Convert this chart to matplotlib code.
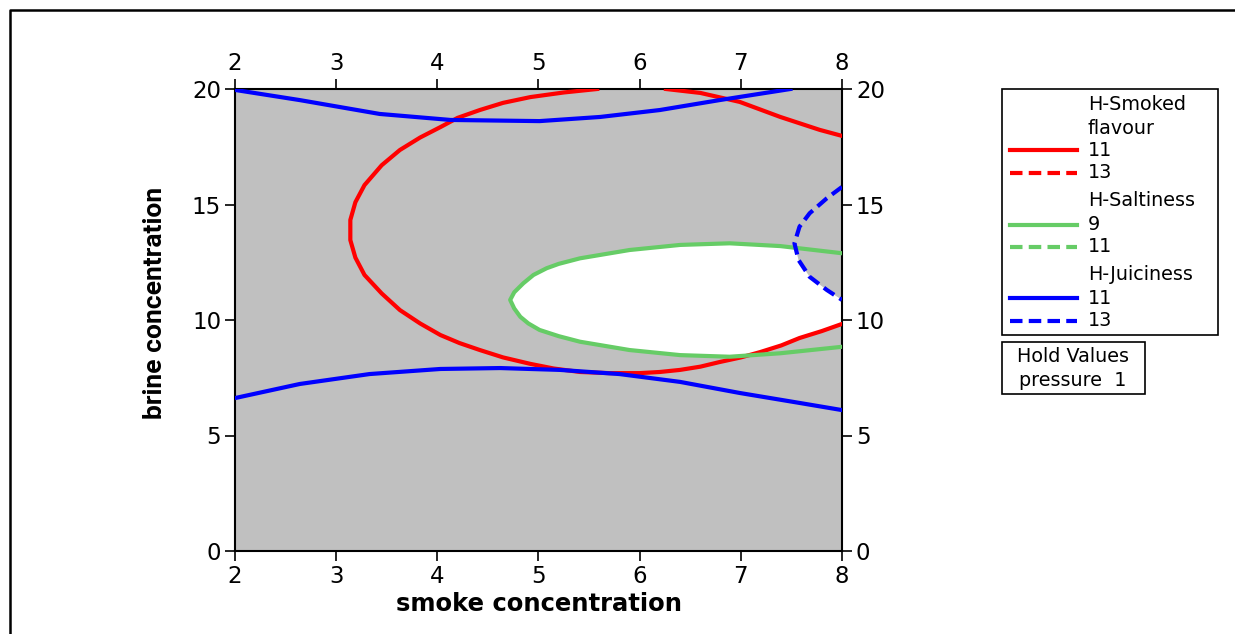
import matplotlib.pyplot as plt
from matplotlib.patches import Rectangle, Polygon

# contour lines
red_left_x = [5.58, 5.25, 4.92, 4.65, 4.42, 4.2, 4.03, 3.83, 3.63, 3.45, 3.28, 3.19, 3.14, 3.14, 3.19, 3.28, 3.45, 3.63, 3.83,
              4.03, 4.22, 4.42, 4.65, 4.92, 5.15, 5.41, 5.7, 6.0, 6.2, 6.4, 6.6, 6.79, 7.0, 7.19, 7.4, 7.58, 7.8, 8.0]
red_left_y = [20.0, 19.85, 19.65, 19.4, 19.09, 18.75, 18.35, 17.9, 17.36, 16.7, 15.84, 15.1, 14.33, 13.46, 12.7, 11.95, 11.15, 10.43, 9.85,
              9.35, 9.0, 8.7, 8.38, 8.1, 7.9, 7.75, 7.7, 7.7, 7.75, 7.84, 7.98, 8.18, 8.38, 8.61, 8.9, 9.22, 9.52, 9.83]
red_right_x = [6.26, 6.6, 6.99, 7.39, 7.78, 8.0]
red_right_y = [20.0, 19.83, 19.44, 18.79, 18.23, 17.97]

green_x = [8.0, 7.39, 6.89, 6.4, 5.9, 5.41, 5.2, 5.08, 4.95, 4.85, 4.76, 4.72, 4.76, 4.82, 4.9, 5.01, 5.2, 5.41, 5.9, 6.4, 6.89, 7.39, 8.0]
green_y = [12.89, 13.2, 13.32, 13.25, 13.03, 12.67, 12.43, 12.24, 11.95, 11.59, 11.2, 10.87, 10.5, 10.14, 9.85, 9.57, 9.3, 9.06, 8.7, 8.48, 8.41, 8.56, 8.84]

blue_top_x = [2.0, 2.64, 3.43, 4.13, 5.01, 5.61, 6.2, 6.79, 7.49]
blue_top_y = [19.96, 19.52, 18.92, 18.66, 18.61, 18.79, 19.09, 19.52, 20.0]
blue_bot_x = [2.0, 2.64, 3.33, 4.03, 4.62, 5.21, 5.8, 6.4, 6.99, 7.58, 8.0]
blue_bot_y = [6.62, 7.23, 7.66, 7.88, 7.92, 7.84, 7.66, 7.32, 6.84, 6.41, 6.1]

blue_dash_x = [8.0, 7.85, 7.68, 7.58, 7.53, 7.57, 7.68, 7.85, 8.0]
blue_dash_y = [15.76, 15.27, 14.62, 14.04, 13.32, 12.6, 11.87, 11.3, 10.87]

x_ticks = [2, 3, 4, 5, 6, 7, 8]
y_ticks = [0, 5, 10, 15, 20]

RED = '#ff0000'
GREEN = '#66cc66'
BLUE = '#0000ff'
GRAY = '#c0c0c0'
DASH = (0, (3, 1.5))

W, H = 1235, 634
fig = plt.figure(figsize=(W / 100, H / 100), dpi=100)

ax = fig.add_axes([235 / W, 1 - 551 / H, (842 - 235) / W, (551 - 89) / H])
ax.set_facecolor(GRAY)
ax.set_xlim(2, 8)
ax.set_ylim(0, 20)

# feasible (white) region: inside saltiness 9, left of juiciness 13, above smoked 11
ax.add_patch(Polygon(list(zip(green_x, green_y)), closed=True, facecolor='white', edgecolor='none', zorder=1))
ax.add_patch(Polygon(list(zip(blue_dash_x, blue_dash_y)), closed=True, facecolor=GRAY, edgecolor='none', zorder=1.1))
low = [(x, y) for x, y in zip(red_left_x, red_left_y) if x >= 5.4 and y < 12]
ax.add_patch(Polygon(low + [(8, 0), (low[0][0], 0)], closed=True, facecolor=GRAY, edgecolor='none', zorder=1.1))

lw = 3
ax.plot(red_left_x, red_left_y, color=RED, lw=lw, zorder=3)
ax.plot(red_right_x, red_right_y, color=RED, lw=lw, zorder=3)
ax.plot(green_x, green_y, color=GREEN, lw=lw, zorder=3)
ax.plot(blue_top_x, blue_top_y, color=BLUE, lw=lw, zorder=3)
ax.plot(blue_bot_x, blue_bot_y, color=BLUE, lw=lw, zorder=3)
ax.plot(blue_dash_x, blue_dash_y, color=BLUE, lw=lw, ls=DASH, zorder=3)

ax.set_xticks(x_ticks)
ax.set_yticks(y_ticks)
ax.tick_params(direction='out', length=7, width=1.2, labelsize=16.5, colors='black',
               top=True, right=True, labeltop=True, labelright=True, pad=3)
for s in ax.spines.values():
    s.set_linewidth(1.5)

ax.set_xlabel('smoke concentration', fontsize=17.5, fontweight='bold', labelpad=3)
ax.set_ylabel('brine concentration', fontsize=19, fontweight='bold', family=['Roboto', 'DejaVu Sans'])
ax.yaxis.set_label_coords(-0.112, 0.537)

# overlay in pixel coords for frame and legend
ov = fig.add_axes([0, 0, 1, 1], zorder=-1)
ov.set_xlim(0, W)
ov.set_ylim(H, 0)
ov.axis('off')
ov.patch.set_alpha(0)

ov.plot([10, 10, W], [H, 10, 10], color='black', lw=1.8)

ov.add_patch(Rectangle((1002, 89), 216, 246, facecolor='white', edgecolor='black', lw=1.2))
leg_font = 13.8
heads = [('H-Smoked', 104), ('flavour', 128), ('H-Saltiness', 201), ('H-Juiciness', 274)]
for txt, yy in heads:
    ov.text(1088, yy, txt, fontsize=leg_font, va='center', ha='left')
entries = [(RED, '-', '11', 150), (RED, '--', '13', 173),
           (GREEN, '-', '9', 225), (GREEN, '--', '11', 247),
           (BLUE, '-', '11', 298), (BLUE, '--', '13', 321)]
for c, st, txt, yy in entries:
    ls = '-' if st == '-' else DASH
    ov.plot([1010, 1077], [yy, yy], color=c, lw=lw, ls=ls)
    ov.text(1088, yy, txt, fontsize=leg_font, va='center', ha='left')

ov.add_patch(Rectangle((1002, 342), 143, 52, facecolor='white', edgecolor='black', lw=1.2))
ov.text(1073, 356, 'Hold Values', fontsize=leg_font, va='center', ha='center')
ov.text(1073, 380, 'pressure  1', fontsize=leg_font, va='center', ha='center')

fig.savefig('out.png', dpi=100)
